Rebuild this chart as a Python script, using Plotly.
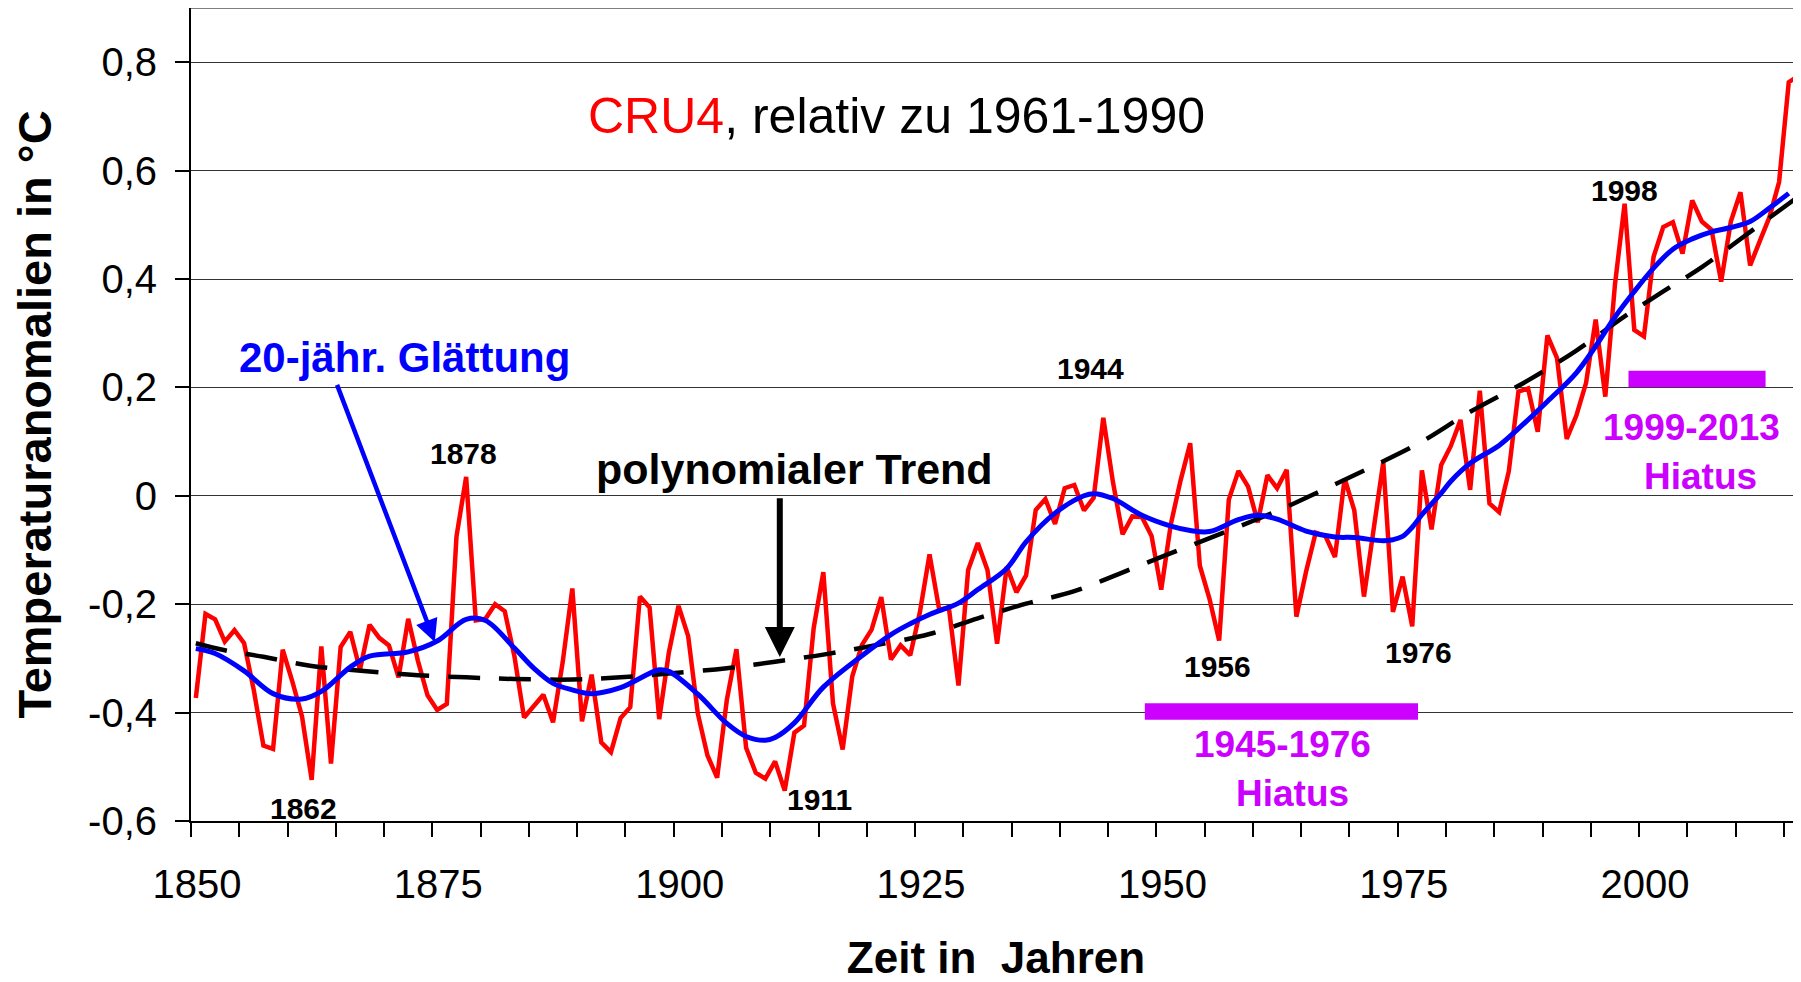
import plotly.graph_objects as go

# ---------------- data ----------------
years = list(range(1850, 2017))
cru4 = [
    -0.373, -0.218, -0.228, -0.269, -0.248, -0.272, -0.358, -0.461, -0.467, -0.284,  # 1850-59
    -0.343, -0.407, -0.524, -0.278, -0.494, -0.279, -0.251, -0.321, -0.238, -0.262,  # 1860-69
    -0.276, -0.335, -0.227, -0.304, -0.368, -0.395, -0.384, -0.075, 0.035, -0.230,   # 1870-79
    -0.227, -0.200, -0.213, -0.296, -0.409, -0.389, -0.367, -0.418, -0.307, -0.171,  # 1880-89
    -0.416, -0.330, -0.455, -0.473, -0.410, -0.390, -0.186, -0.206, -0.412, -0.289,  # 1890-99
    -0.203, -0.259, -0.402, -0.479, -0.520, -0.377, -0.283, -0.465, -0.511, -0.522,  # 1900-09
    -0.490, -0.544, -0.437, -0.424, -0.244, -0.141, -0.383, -0.468, -0.333, -0.275,  # 1910-19
    -0.247, -0.187, -0.302, -0.276, -0.294, -0.215, -0.108, -0.210, -0.206, -0.350,  # 1920-29
    -0.137, -0.087, -0.137, -0.273, -0.131, -0.178, -0.147, -0.026, -0.006, -0.052,  # 1930-39
    0.014, 0.020, -0.027, -0.004, 0.144, 0.025, -0.071, -0.038, -0.039, -0.074,      # 1940-49
    -0.173, -0.052, 0.028, 0.097, -0.129, -0.190, -0.267, -0.007, 0.046, 0.017,      # 1950-59
    -0.049, 0.038, 0.014, 0.048, -0.223, -0.140, -0.068, -0.074, -0.113, 0.032,      # 1960-69
    -0.027, -0.186, -0.065, 0.062, -0.214, -0.149, -0.241, 0.047, -0.062, 0.057,     # 1970-79
    0.092, 0.140, 0.011, 0.194, -0.014, -0.030, 0.045, 0.192, 0.198, 0.118,          # 1980-89
    0.296, 0.254, 0.105, 0.148, 0.208, 0.325, 0.183, 0.390, 0.539, 0.306,            # 1990-99
    0.294, 0.441, 0.496, 0.505, 0.447, 0.545, 0.506, 0.491, 0.395, 0.506,            # 2000-09
    0.560, 0.425, 0.470, 0.514, 0.579, 0.763, 0.775,                                 # 2010-16
]

# 20-year smoothing
smooth_years = [1850, 1852, 1855, 1858, 1861, 1863, 1866, 1868, 1872, 1875, 1878, 1880,
                1883, 1885, 1887, 1889, 1891, 1894, 1898, 1899, 1902, 1905, 1907, 1909,
                1910, 1912, 1915, 1919, 1922, 1924, 1926, 1929, 1931, 1934, 1936, 1939,
                1942, 1943, 1945, 1948, 1951, 1953, 1955, 1958, 1960, 1962, 1965, 1968,
                1970, 1973, 1974, 1975, 1976, 1977, 1979, 1980, 1982, 1985, 1987, 1990,
                1993, 1995, 1997, 1999, 2001, 2003, 2005, 2007, 2009, 2011, 2013, 2015]
smooth_vals = [-0.282, -0.291, -0.323, -0.365, -0.375, -0.361, -0.316, -0.296, -0.288, -0.268, -0.228, -0.230,
               -0.281, -0.318, -0.346, -0.358, -0.365, -0.354, -0.321, -0.324, -0.366, -0.420, -0.444, -0.451,
               -0.446, -0.419, -0.353, -0.295, -0.256, -0.236, -0.219, -0.198, -0.173, -0.134, -0.085, -0.032,
               0.000, 0.004, -0.005, -0.036, -0.056, -0.064, -0.066, -0.044, -0.036, -0.043, -0.065, -0.076,
               -0.077, -0.083, -0.081, -0.075, -0.058, -0.035, 0.005, 0.027, 0.060, 0.093, 0.124, 0.174,
               0.227, 0.276, 0.330, 0.377, 0.420, 0.455, 0.474, 0.487, 0.495, 0.506, 0.531, 0.558]

# polynomial trend
trend_years = [1850, 1853, 1857, 1862, 1868, 1873, 1878, 1883, 1889, 1894, 1899, 1905,
               1910, 1915, 1920, 1926, 1931, 1936, 1941, 1947, 1952, 1957, 1962, 1967,
               1972, 1977, 1982, 1988, 1993, 1998, 2002, 2006, 2011, 2013, 2016]
trend_vals = [-0.272, -0.285, -0.297, -0.314, -0.324, -0.331, -0.335, -0.338, -0.339, -0.335, -0.328, -0.318,
              -0.306, -0.293, -0.277, -0.255, -0.226, -0.199, -0.176, -0.134, -0.099, -0.064, -0.028, 0.013,
              0.055, 0.100, 0.155, 0.213, 0.268, 0.331, 0.377, 0.422, 0.487, 0.513, 0.552]

x_tick_years = list(range(1850, 2016, 5))
x_label_years = [1850, 1875, 1900, 1925, 1950, 1975, 2000]
y_tick_vals = [-0.6, -0.4, -0.2, 0.0, 0.2, 0.4, 0.6, 0.8]
y_tick_text = ["-0,6", "-0,4", "-0,2", "0", "0,2", "0,4", "0,6", "0,8"]

# hiatus markers as drawn (start, end on the year axis; level)
hiatus_bars = [(1948.8, 1977.1, -0.398), (1998.9, 2013.1, 0.2154)]

# ---------------- figure ----------------
FONT = 'Arial, "Liberation Sans", sans-serif'
RED, BLUE, MAG = "#FF0000", "#0000FF", "#CC00FF"


def centre(ys):
    # category axis: each year's value sits in the middle of its slot
    return [y + 0.5 for y in ys]


fig = go.Figure()
fig.add_trace(go.Scatter(x=centre(years), y=cru4, mode="lines",
                         line=dict(color=RED, width=4.5), name="CRU4"))
fig.add_trace(go.Scatter(x=centre(trend_years), y=trend_vals, mode="lines",
                         line=dict(color="black", width=4.5, dash="32px,19px", shape="spline"),
                         name="polynomialer Trend"))
fig.add_trace(go.Scatter(x=centre(smooth_years), y=smooth_vals, mode="lines",
                         line=dict(color=BLUE, width=5, shape="spline"),
                         name="20-jähr. Glättung"))

for x0, x1, lvl in hiatus_bars:
    fig.add_shape(type="rect", xref="x", yref="y", x0=x0, x1=x1,
                  y0=lvl - 0.0152, y1=lvl + 0.0152,
                  fillcolor=MAG, line=dict(width=0), layer="above")

# top frame line
fig.add_shape(type="line", xref="paper", yref="paper", x0=0, x1=1, y0=1, y1=1,
              line=dict(color="#555555", width=1.5))


def note(text, x, y, size, color="black", bold=True):
    fig.add_annotation(x=x, y=y, xref="x", yref="y", text=text, showarrow=False,
                       xanchor="center", yanchor="middle",
                       font=dict(family=FONT, size=size, color=color,
                                 weight="bold" if bold else "normal"))


note('<span style="color:#FF0000">CRU4</span>, relativ zu 1961-1990', 1923.1, 0.700, 50, bold=False)
note("20-jähr. Glättung", 1872.14, 0.255, 42, color=BLUE)
note("polynomialer Trend", 1912.55, 0.049, 43)
note("1878", 1878.27, 0.078, 30)
note("1862", 1861.70, -0.577, 30)
note("1911", 1915.14, -0.560, 30)
note("1944", 1943.18, 0.234, 30)
note("1956", 1956.35, -0.315, 30)
note("1976", 1977.17, -0.289, 30)
note("1998", 1998.49, 0.564, 30)
note("1945-1976", 1963.05, -0.459, 37, color=MAG)
note("Hiatus", 1964.06, -0.549, 37, color=MAG)
note("1999-2013", 2005.38, 0.1265, 37, color=MAG)
note("Hiatus", 2006.36, 0.036, 37, color=MAG)

# arrows
fig.add_annotation(x=1875.25, y=-0.2696, ax=1865.07, ay=0.2075, xref="x", yref="y",
                   axref="x", ayref="y", text="", showarrow=True, arrowhead=2,
                   arrowsize=1.0, arrowwidth=4.5, arrowcolor=BLUE, standoff=0)
fig.add_annotation(x=1910.99, y=-0.2972, ax=1910.99, ay=-0.0018, xref="x", yref="y",
                   axref="x", ayref="y", text="", showarrow=True, arrowhead=2,
                   arrowsize=1.0, arrowwidth=6, arrowcolor="black", standoff=0)

# the page body adds an 8px offset, so the figure is sized to end at the window edge
fig.update_layout(
    width=1793, height=974,
    margin=dict(l=183, r=0, t=0, b=161),
    plot_bgcolor="white", paper_bgcolor="white",
    showlegend=False,
    font=dict(family=FONT, color="black"),
    xaxis=dict(
        range=[1850, 2016.77],
        tickmode="array", tickvals=x_tick_years,
        ticktext=[str(v) if v in x_label_years else "" for v in x_tick_years],
        ticks="outside", ticklen=14, tickwidth=1.5, tickcolor="black",
        showline=True, linecolor="black", linewidth=2,
        showgrid=False, zeroline=False,
        tickfont=dict(family=FONT, size=40, color="black"),
        ticklabelshift=6, ticklabelstandoff=13,
        title=dict(text="Zeit in\u00a0 Jahren", standoff=38,
                   font=dict(family=FONT, size=44, color="black", weight="bold")),
    ),
    yaxis=dict(
        range=[-0.6, 0.9],
        tickmode="array", tickvals=y_tick_vals, ticktext=y_tick_text,
        ticks="outside", ticklen=14, tickwidth=1.5, tickcolor="black",
        showline=True, linecolor="black", linewidth=2,
        showgrid=True, gridcolor="#333333", gridwidth=1,
        zeroline=False,
        tickfont=dict(family=FONT, size=40, color="black"),
        ticklabelstandoff=10,
        title=dict(text="Temperaturanomalien in °C", standoff=22,
                   font=dict(family=FONT, size=47, color="black", weight="bold")),
    ),
)

fig.write_html("out.html")
